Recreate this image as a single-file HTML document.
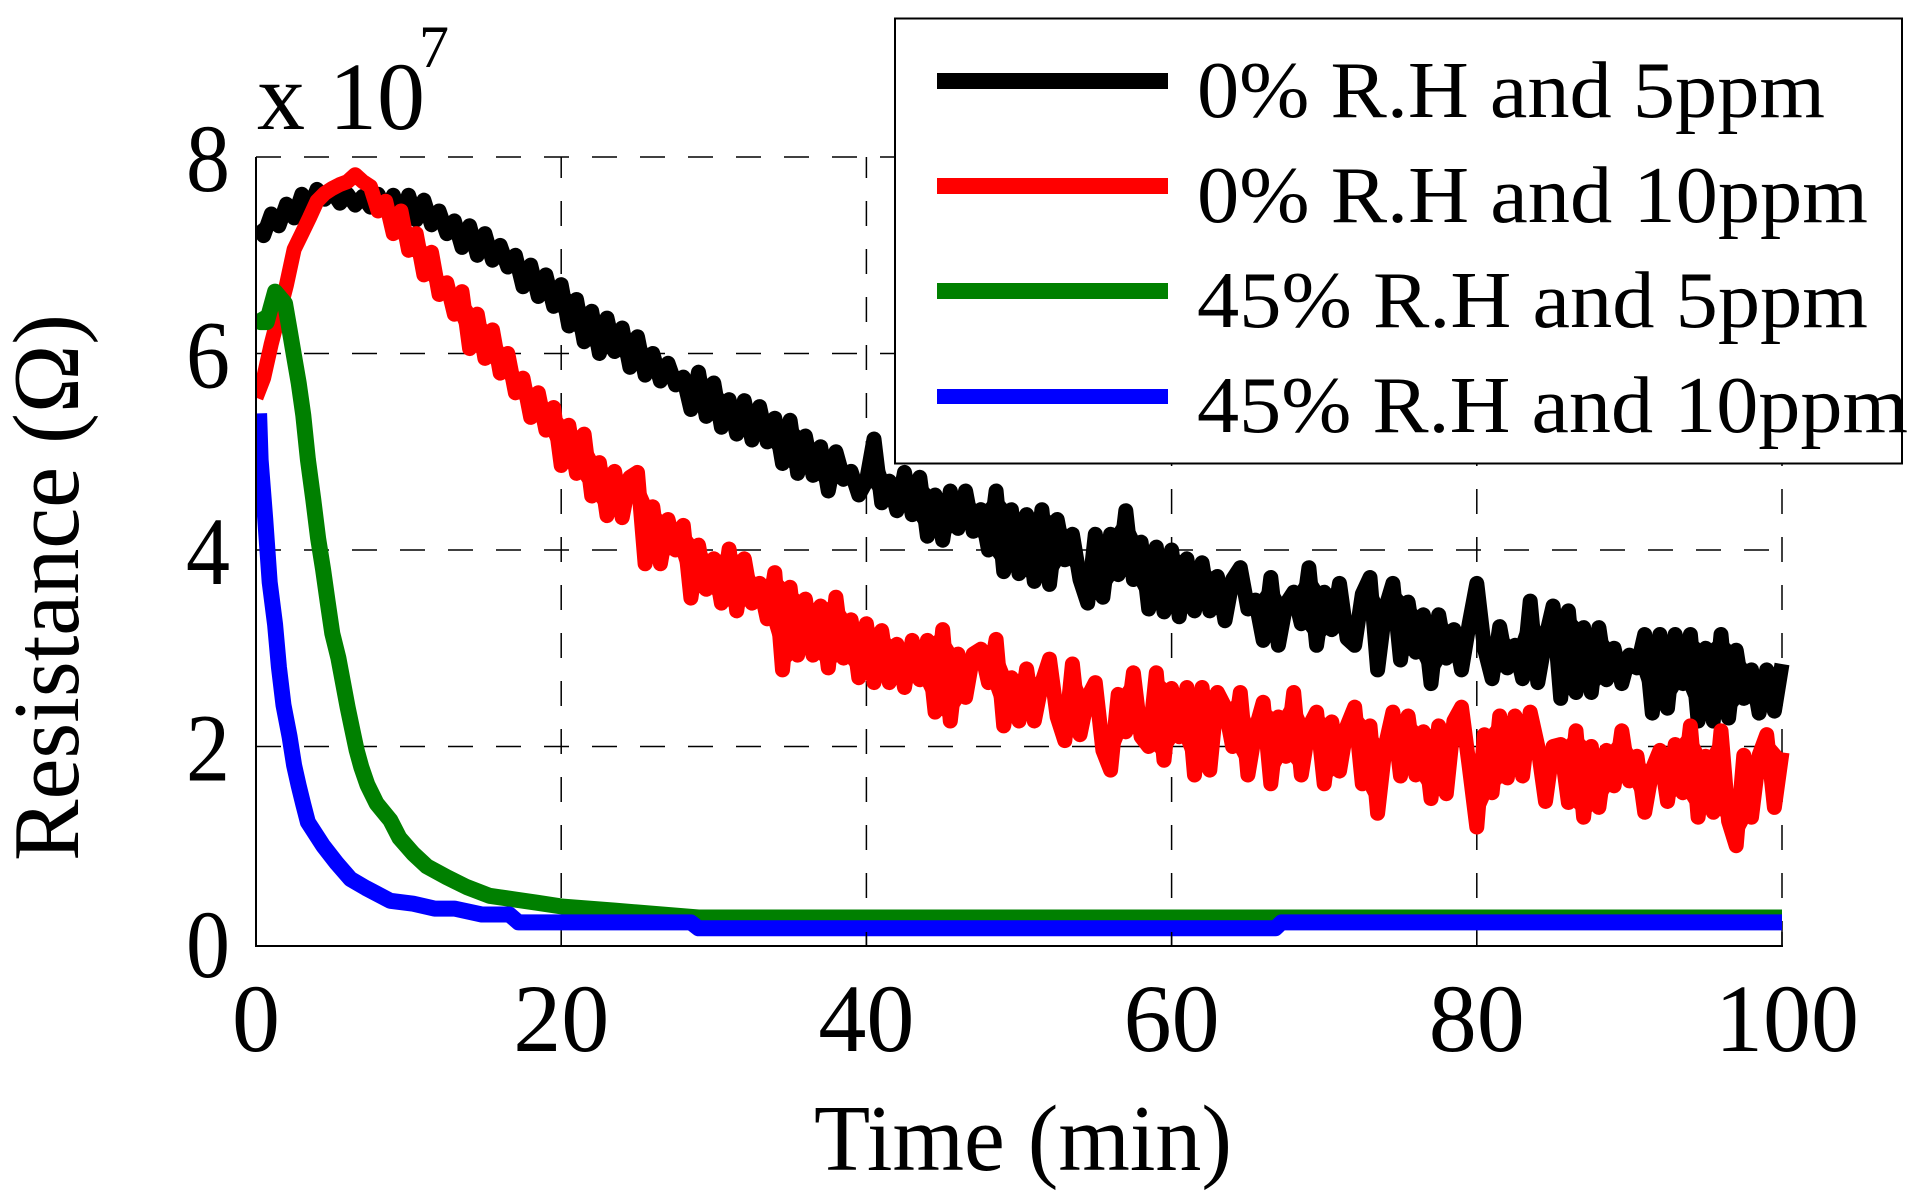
<!DOCTYPE html>
<html lang="en">
<head>
<meta charset="utf-8">
<title>Resistance vs Time</title>
<style>
  html, body { margin: 0; padding: 0; background: #fff; }
  body { width: 1920px; height: 1203px; overflow: hidden; }
  svg { display: block; }
  text { font-family: "Liberation Serif", "DejaVu Serif", serif; fill: #000; }
</style>
</head>
<body>
<svg id="chart" xmlns="http://www.w3.org/2000/svg" width="1920" height="1203" viewBox="0 0 1920 1203">
  <rect x="0" y="0" width="1920" height="1203" fill="#fff"/>
  <defs>
    <clipPath id="plot-clip"><rect x="255" y="100" width="1545" height="846"/></clipPath>
  </defs>
  <g id="grid"></g>
  <g id="marks" clip-path="url(#plot-clip)"></g>
  <g id="axes"></g>

  <text x="257" y="129" font-size="96">x 10</text>
  <text x="419" y="67" font-size="60">7</text>
  <text x="814" y="1170" font-size="94" textLength="418" lengthAdjust="spacingAndGlyphs">Time (min)</text>
  <text transform="translate(78 861) rotate(-90)" font-size="94" textLength="547" lengthAdjust="spacingAndGlyphs">Resistance (Ω)</text>

  <g>
    <rect x="895" y="18.5" width="1007" height="445" fill="#fff" stroke="#000" stroke-width="2"/>
    <g>
      <rect x="937" y="73" width="231" height="16" fill="#000"/>
      <text x="1197" y="117" font-size="80" textLength="628" lengthAdjust="spacingAndGlyphs">0% R.H and 5ppm</text>
    </g>
    <g>
      <rect x="937" y="178" width="231" height="16" fill="#f00"/>
      <text x="1197" y="222" font-size="80" textLength="671" lengthAdjust="spacingAndGlyphs">0% R.H and 10ppm</text>
    </g>
    <g>
      <rect x="937" y="283" width="231" height="16" fill="#008000"/>
      <text x="1197" y="327" font-size="80" textLength="671" lengthAdjust="spacingAndGlyphs">45% R.H and 5ppm</text>
    </g>
    <g>
      <rect x="937" y="389" width="231" height="15" fill="#00f"/>
      <text x="1197" y="432" font-size="80" textLength="711" lengthAdjust="spacingAndGlyphs">45% R.H and 10ppm</text>
    </g>
  </g>
</svg>
<script>
// Tick labels
const xTickLabels = [0, 20, 40, 60, 80, 100];
const yTickLabels = [0, 2, 4, 6, 8];

// Values are in units of 1e5 ohm. Noisy series are sampled every 0.5 min from t = 0.
const blackValues = [
729,720,742,730,752,738,762,748,767,757,765,753,762,751,760,749,762,746,761,739,
761,736,756,731,745,722,735,708,730,700,722,695,710,688,700,668,690,658,680,648,
670,628,655,612,643,600,636,602,626,586,617,578,600,572,590,568,576,543,581,536,
570,525,553,518,552,512,546,510,534,488,532,478,516,476,505,460,500,472,480,456,
470,513,448,470,440,479,436,474,414,456,410,460,422,460,419,441,400,460,378,441,
376,436,368,441,365,431,390,416,370,346,416,352,416,375,440,370,408,340,403,337,
400,332,391,338,387,338,373,328,370,382,340,349,308,372,303,345,357,325,382,303,
357,319,366,310,303,355,372,278,340,366,288,347,296,334,264,334,290,319,278,325,
366,300,269,322,280,303,269,348,265,310,343,249,338,255,321,255,321,268,300,264,
293,280,314,234,314,239,314,264,314,226,300,226,314,229,298,249,278,234,278,236,284
];
const redValues = [
555,575,610,640,670,706,722,738,755,763,768,772,775,782,775,770,745,755,722,745,
705,722,680,703,660,672,640,663,605,640,595,624,580,600,560,575,535,560,522,545,
486,527,478,518,455,489,435,480,433,474,479,386,444,386,431,400,425,351,405,360,
391,346,401,338,391,346,366,330,377,278,362,293,350,293,343,280,352,290,329,270,
325,265,318,265,304,260,308,268,308,235,319,226,294,250,294,299,265,309,221,270,
226,279,226,265,289,230,206,284,212,250,265,196,176,253,215,275,210,200,275,186,
259,210,260,171,260,176,255,240,200,255,171,217,245,162,230,190,255,171,220,235,
162,225,175,221,240,162,221,132,200,235,170,231,171,215,147,221,152,226,240,180,
118,212,153,231,168,231,170,235,200,144,200,202,143,216,128,200,138,196,160,216,
165,190,133,177,196,144,202,153,221,128,190,133,216,124,99,191,128,191,212,138,194
];
const noisySampleMinutes = 0.5;

const greenTimes = [0,0.3,0.7,1.25,1.9,2.2,2.5,2.8,3.1,3.4,3.75,4.07,4.4,4.7,5,5.4,5.7,6,6.3,6.6,6.9,7.3,7.9,8.8,9.4,10.3,11.2,12.5,13.8,15.3,17.1,18.4,20.1,23.5,29,100];
const greenValues = [640,632,632,663,651,624,597,570,537,492,452,412,380,347,315,290,265,240,218,196,179,161,142,125,107,91,78,67,57,48,44,41,37,33,26,26];

const blueTimes = [0.2,0.3,0.6,0.9,1.25,1.5,1.8,2.2,2.5,2.8,3.1,3.4,4.4,5.3,6.2,7.2,8.8,10.3,11.7,13,14.8,16.6,17.2,28.5,29,66.8,67.2,100];
const blueValues = [539,492,432,367,324,281,242,210,181,160,141,123,99,81,65,56,43,40,35,35,29,29,21,21,15,15,21,21];

const SVG_NS = 'http://www.w3.org/2000/svg';
const xScale = function (t) { return 256 + 15.26 * t; };
const yScale = function (v) { return 943 - 0.9825 * v; };
const plotTop = yScale(800);
const plotBottom = 946;
const plotLeft = xScale(0);
const plotRight = xScale(100);

const gridLayer = document.getElementById('grid');
const axesLayer = document.getElementById('axes');
const marksLayer = document.getElementById('marks');
const chartSvg = document.getElementById('chart');

function svgEl(tag, attrs) {
  const el = document.createElementNS(SVG_NS, tag);
  Object.keys(attrs).forEach(function (k) { el.setAttribute(k, attrs[k]); });
  return el;
}

// Dashed grid lines and ticks
xTickLabels.forEach(function (t) {
  const px = xScale(t);
  if (t > 0) {
    const g = svgEl('line', { x1: px, x2: px, y1: plotBottom, y2: plotTop, stroke: '#000', 'stroke-width': 1.5, 'stroke-dasharray': '25 23' });
    
    
    gridLayer.appendChild(g);
    const tick = svgEl('line', { x1: px, x2: px, y1: plotBottom, y2: plotBottom - 14, stroke: '#000', 'stroke-width': 1.5 });
    
    
    axesLayer.appendChild(tick);
  }
  const label = svgEl('text', { x: px + (t === 100 ? 5 : 0), y: 1051, 'font-size': 96, 'text-anchor': 'middle' });
  label.textContent = String(t);
  
  
  chartSvg.appendChild(label);
});

yTickLabels.forEach(function (v) {
  const py = yScale(v * 100);
  if (v > 0) {
    const g = svgEl('line', { x1: plotLeft, x2: plotRight, y1: py, y2: py, stroke: '#000', 'stroke-width': 1.5, 'stroke-dasharray': '25 23' });
    
    
    gridLayer.appendChild(g);
  }
  const label = svgEl('text', { x: 230, y: py + 34, 'font-size': 96, 'text-anchor': 'end', textLength: 44, lengthAdjust: 'spacingAndGlyphs' });
  label.textContent = String(v);
  
  
  chartSvg.appendChild(label);
});

// Solid left and bottom spines
const leftSpine = svgEl('line', { x1: plotLeft, x2: plotLeft, y1: plotTop, y2: plotBottom + 1, stroke: '#000', 'stroke-width': 2 });


axesLayer.appendChild(leftSpine);
const bottomSpine = svgEl('line', { x1: plotLeft, x2: plotRight + 1, y1: plotBottom, y2: plotBottom, stroke: '#000', 'stroke-width': 2 });


axesLayer.appendChild(bottomSpine);

// Series: the noisy traces overlap so densely in the original that they read as a solid band,
// so consecutive samples are also joined by filled triangles computed from the same values.
function drawBand(values, color, name) {
  let d = '';
  for (let i = 0; i + 2 < values.length; i++) {
    const ax = xScale(i * noisySampleMinutes), ay = yScale(values[i]);
    const bx = xScale((i + 1) * noisySampleMinutes), by = yScale(values[i + 1]);
    const cx = xScale((i + 2) * noisySampleMinutes), cy = yScale(values[i + 2]);
    const cross = (bx - ax) * (cy - ay) - (by - ay) * (cx - ax);
    const first = cross >= 0 ? [bx, by] : [cx, cy];
    const second = cross >= 0 ? [cx, cy] : [bx, by];
    d += 'M' + ax.toFixed(1) + ' ' + ay.toFixed(1) + 'L' + first[0].toFixed(1) + ' ' + first[1].toFixed(1) + 'L' + second[0].toFixed(1) + ' ' + second[1].toFixed(1) + 'Z';
  }
  const band = svgEl('path', { d: d, fill: color, 'fill-rule': 'nonzero', stroke: 'none' });
  
  
  marksLayer.appendChild(band);
}
function drawSeries(times, values, color, width, name) {
  const pts = values.map(function (v, i) {
    return xScale(times ? times[i] : i * noisySampleMinutes).toFixed(1) + ',' + yScale(v).toFixed(1);
  }).join(' ');
  const line = svgEl('polyline', { points: pts, fill: 'none', stroke: color, 'stroke-width': width, 'stroke-linejoin': 'round', 'stroke-linecap': 'butt' });
  
  
  marksLayer.appendChild(line);
}
drawBand(blackValues, '#000', 'series-0rh-5ppm-band');
drawSeries(null, blackValues, '#000', 15, 'series-0rh-5ppm');
drawBand(redValues, '#f00', 'series-0rh-10ppm-band');
drawSeries(null, redValues, '#f00', 15, 'series-0rh-10ppm');
drawSeries(greenTimes, greenValues, '#008000', 16, 'series-45rh-5ppm');
drawSeries(blueTimes, blueValues, '#00f', 16, 'series-45rh-10ppm');
</script>
</body>
</html>
